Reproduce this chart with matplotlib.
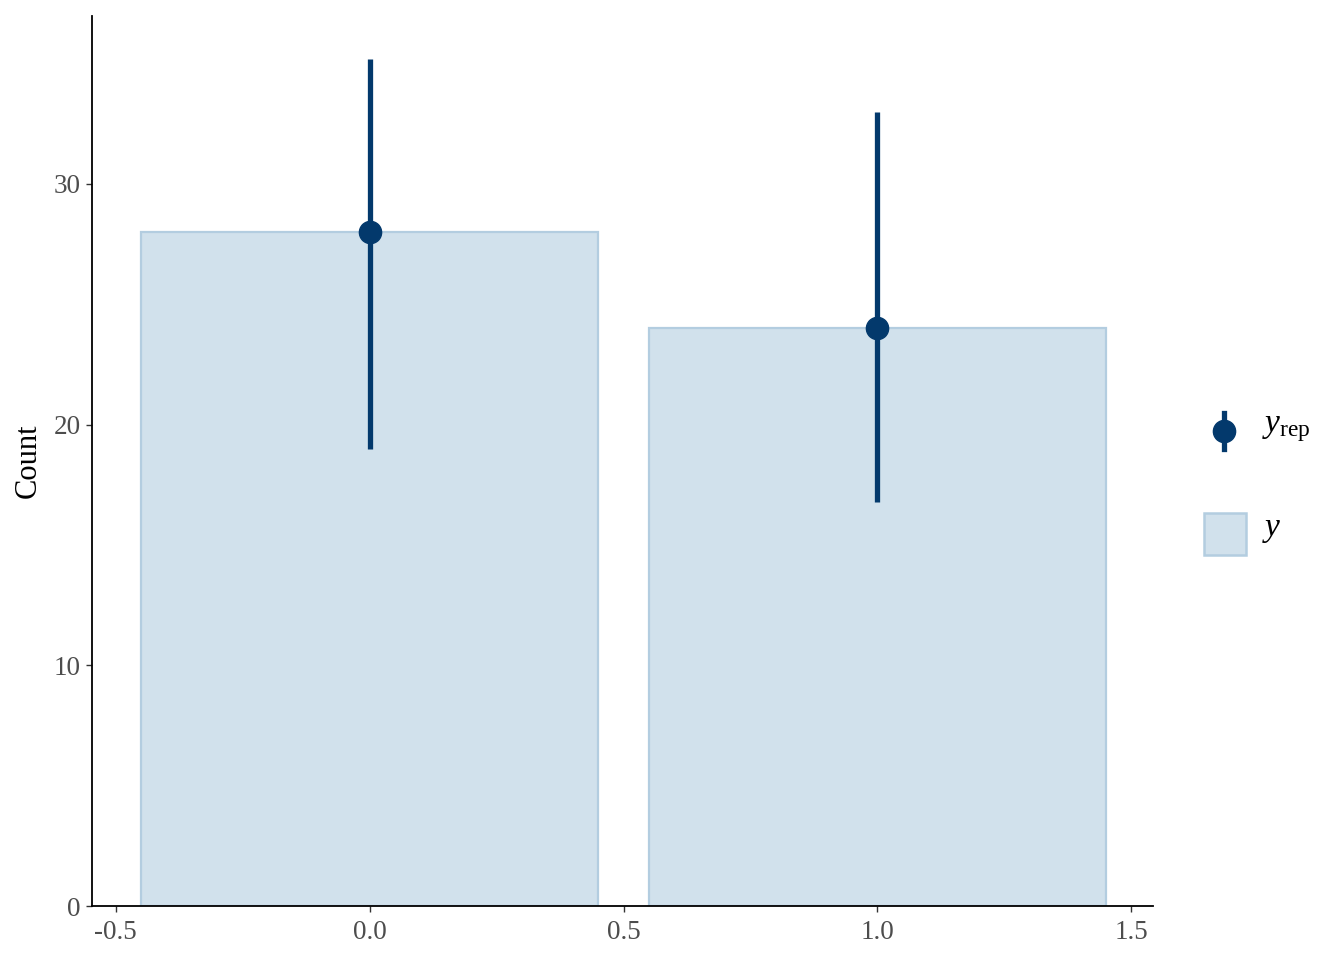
import matplotlib
matplotlib.use("Agg")
import matplotlib.pyplot as plt
from matplotlib.patches import Rectangle
from matplotlib.lines import Line2D

plt.rcParams['font.family'] = ['Liberation Serif', 'DejaVu Serif']
plt.rcParams['mathtext.fontset'] = 'custom'
plt.rcParams['mathtext.rm'] = 'Liberation Serif'
plt.rcParams['mathtext.it'] = 'Liberation Serif:italic'

categories = [0, 1]
y_counts = [28, 24]
yrep_median = [28, 24]
yrep_low = [19.0, 16.8]
yrep_high = [35.2, 33.0]

bar_fill = '#d1e1ec'
bar_edge = '#b3cde0'
dark = '#03396c'

fig = plt.figure(figsize=(13.44, 9.6), dpi=100)
ax = fig.add_axes([92/1344, 54/960, (1153-92)/1344, (906-16)/960])

ax.bar(categories, y_counts, width=0.9, color=bar_fill, edgecolor=bar_edge, linewidth=1.6, zorder=1)
ax.vlines(categories, yrep_low, yrep_high, color=dark, linewidth=3.8, zorder=2)
ax.plot(categories, yrep_median, 'o', color=dark, markersize=16, zorder=3)

ax.set_xlim(-0.547, 1.543)
ax.set_ylim(0, 36.97)
ax.set_xticks([-0.5, 0.0, 0.5, 1.0, 1.5])
ax.set_xticklabels(['-0.5', '0.0', '0.5', '1.0', '1.5'])
ax.set_yticks([0, 10, 20, 30])
for s in ['top', 'right']:
    ax.spines[s].set_visible(False)
for s in ['left', 'bottom']:
    ax.spines[s].set_linewidth(1.3)
    ax.spines[s].set_color('black')
ax.tick_params(axis='both', length=4, width=1.0, color='#333333', labelcolor='#4d4d4d', labelsize=19.5, pad=4)
ax.tick_params(axis='x', pad=6)
ax.set_ylabel('Count', fontsize=22, labelpad=8)

# legend
fig.add_artist(Line2D([1224/1344, 1224/1344], [1-413/960, 1-449/960], color=dark, linewidth=3.8, transform=fig.transFigure))
fig.add_artist(Line2D([1224/1344], [1-431/960], marker='o', color=dark, markersize=16, transform=fig.transFigure))
fig.text(1262/1344, 1-429/960, r'$y_{\mathrm{rep}}$', fontsize=24, va='center', ha='left')
fig.add_artist(Rectangle((1204/1344, 1-555/960), 42/1344, 42/960, facecolor=bar_fill, edgecolor=bar_edge, linewidth=1.8, transform=fig.transFigure))
fig.text(1262/1344, 1-530/960, r'$y$', fontsize=24, va='center', ha='left')

fig.savefig('out.png', dpi=100)
